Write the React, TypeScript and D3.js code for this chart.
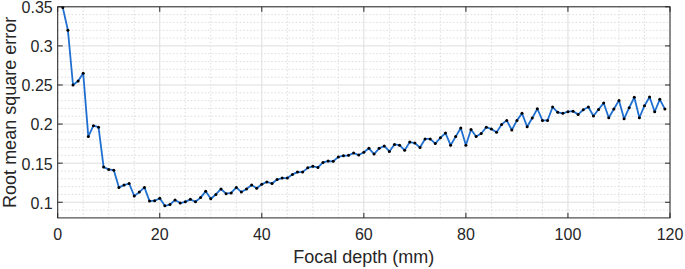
import React from "react";
import * as d3 from "d3";

const rmse: number[] = [
  0.349, 0.32, 0.25, 0.255, 0.265, 0.184, 0.198, 0.196, 0.145, 0.142,
  0.141, 0.119, 0.122, 0.124, 0.108, 0.113, 0.119, 0.1015, 0.102, 0.105,
  0.0955, 0.097, 0.103, 0.099, 0.1005, 0.1037, 0.1006, 0.106, 0.114, 0.1045,
  0.11, 0.117, 0.111, 0.112, 0.119, 0.113, 0.117, 0.122, 0.118, 0.123,
  0.126, 0.124, 0.129, 0.131, 0.131, 0.1356, 0.1386, 0.1386, 0.144, 0.146,
  0.1446, 0.151, 0.1527, 0.1523, 0.158, 0.1595, 0.16, 0.163, 0.1604, 0.164,
  0.169, 0.1616, 0.169, 0.172, 0.165, 0.174, 0.173, 0.1664, 0.177, 0.1757,
  0.17, 0.181, 0.181, 0.175, 0.1825, 0.1885, 0.173, 0.184, 0.195, 0.173,
  0.193, 0.184, 0.188, 0.196, 0.1936, 0.1894, 0.1996, 0.2047, 0.1924, 0.2047,
  0.2137, 0.1966, 0.2077, 0.2196, 0.2047, 0.2047, 0.2218, 0.215, 0.2137, 0.2158,
  0.2165, 0.2124, 0.2183, 0.2218, 0.2103, 0.2188, 0.2269, 0.2081, 0.2192, 0.2303,
  0.2068, 0.2209, 0.2342, 0.2081, 0.2235, 0.2346, 0.2158, 0.2316, 0.2192,
];
const depth: number[] = rmse.map((_, i) => i + 1);

const xTicks = [0, 20, 40, 60, 80, 100, 120];
const yTicks = [0.1, 0.15, 0.2, 0.25, 0.3, 0.35];
const xMinor = [5, 10, 15, 25, 30, 35, 45, 50, 55, 65, 70, 75, 85, 90, 95, 105, 110, 115];
const yMinor = [0.09, 0.11, 0.12, 0.13, 0.14, 0.16, 0.17, 0.18, 0.19, 0.21, 0.22, 0.23, 0.24, 0.26, 0.27, 0.28, 0.29, 0.31, 0.32, 0.33, 0.34];
const xLabel = "Focal depth (mm)";
const yLabel = "Root mean square error";

const W = 685;
const H = 269;
const L = 57.7, R = 670, T = 6.8, B = 217.9;

export default function App() {
  const x = d3.scaleLinear().domain([0, 120]).range([L, R]);
  const y = d3.scaleLinear().domain([0.08, 0.35]).range([B, T]);
  const line = d3.line<number>().x((_, i) => x(depth[i])).y((d) => y(d));
  const axisColor = "#262626";
  const font = "'Liberation Sans', Arial, sans-serif";
  const tl = 5;
  return (
    <svg width={W} height={H} style={{ position: "absolute", left: 0, top: 0, background: "#fff" }}>
      <rect x={L} y={T} width={R - L} height={B - T} fill="#fff" />
      {xMinor.map((v) => (
        <line key={"xm" + v} x1={x(v)} x2={x(v)} y1={T} y2={B} stroke="#d4d4d4" strokeWidth={0.8} strokeDasharray="1.5,2" />
      ))}
      {yMinor.map((v) => (
        <line key={"ym" + v} x1={L} x2={R} y1={y(v)} y2={y(v)} stroke="#d4d4d4" strokeWidth={0.8} strokeDasharray="1.5,2" />
      ))}
      {xTicks.map((v) => (
        <line key={"xg" + v} x1={x(v)} x2={x(v)} y1={T} y2={B} stroke="#dedede" strokeWidth={1} />
      ))}
      {yTicks.map((v) => (
        <line key={"yg" + v} x1={L} x2={R} y1={y(v)} y2={y(v)} stroke="#dedede" strokeWidth={1} />
      ))}
      <path d={line(rmse) || ""} fill="none" stroke="#1f6fd0" strokeWidth={1.8} strokeLinejoin="round" />
      {rmse.map((v, i) => (
        <circle key={"p" + i} cx={x(depth[i])} cy={y(v)} r={1.5} fill="#000" />
      ))}
      <rect x={L} y={T} width={R - L} height={B - T} fill="none" stroke={axisColor} strokeWidth={1} />
      {xTicks.map((v) => (
        <g key={"xt" + v}>
          <line x1={x(v)} x2={x(v)} y1={B} y2={B - tl} stroke={axisColor} />
          <line x1={x(v)} x2={x(v)} y1={T} y2={T + tl} stroke={axisColor} />
          <text x={x(v)} y={B + 22} textAnchor="middle" fontFamily={font} fontSize={16} fill={axisColor}>
            {v}
          </text>
        </g>
      ))}
      {yTicks.map((v) => (
        <g key={"yt" + v}>
          <line x1={L} x2={L + tl} y1={y(v)} y2={y(v)} stroke={axisColor} />
          <line x1={R} x2={R - tl} y1={y(v)} y2={y(v)} stroke={axisColor} />
          <text x={L - 5} y={y(v)} dy="0.4em" textAnchor="end" fontFamily={font} fontSize={16} fill={axisColor}>
            {String(v)}
          </text>
        </g>
      ))}
      <text x={(L + R) / 2} y={263} textAnchor="middle" fontFamily={font} fontSize={18} fill={axisColor}>
        {xLabel}
      </text>
      <text transform={`translate(16, ${(T + B) / 2}) rotate(-90)`} textAnchor="middle" fontFamily={font} fontSize={18} fill={axisColor}>
        {yLabel}
      </text>
    </svg>
  );
}
